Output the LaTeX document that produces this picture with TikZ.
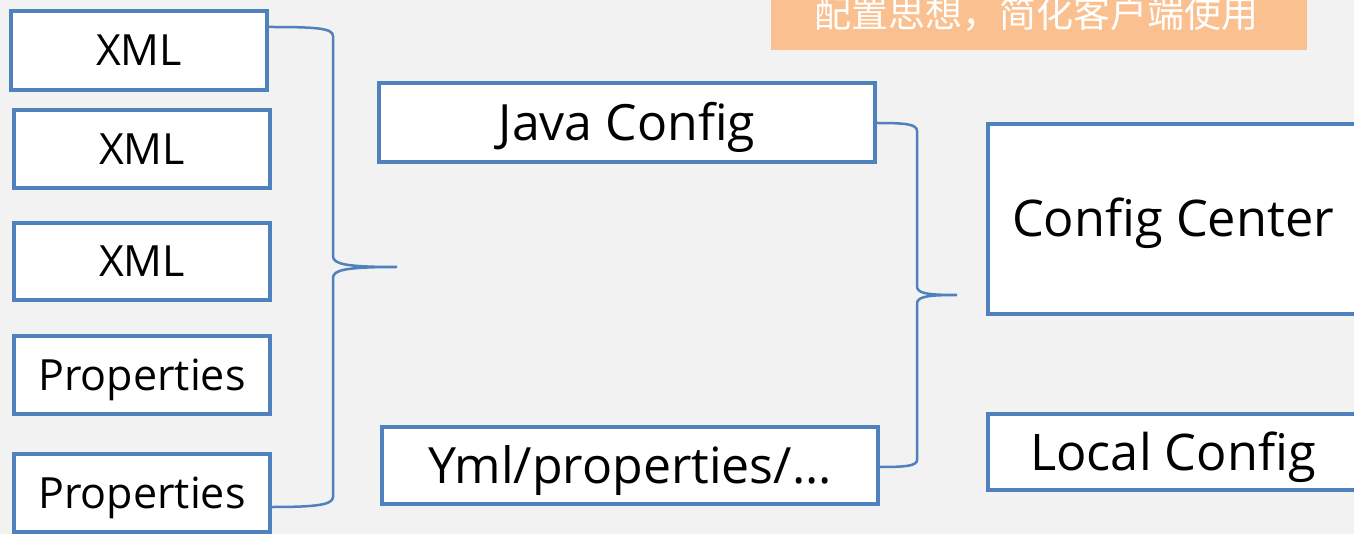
\documentclass[tikz,border=0pt]{standalone}
\usepackage{fontspec}
\setmainfont{Open Sans}
\newfontfamily\cjk{Noto Sans CJK SC}
\usetikzlibrary{calc}
\definecolor{bg}{HTML}{F2F2F2}
\definecolor{boxblue}{HTML}{4F81BD}
\definecolor{peach}{HTML}{FAC090}
\tikzset{
  box/.style={draw=boxblue, line width=4pt, fill=white, rectangle, inner sep=0pt,
    text depth=0pt, align=center},
  brace/.style={draw=boxblue, line width=2.5pt, line cap=round},
  small/.style={font=\fontsize{43}{50}\selectfont, text height=30.7pt},
  mid/.style={font=\fontsize{50}{56}\selectfont, text height=35.7pt},
  big/.style={font=\fontsize{50.5}{58}\selectfont, text height=36pt},
}
\begin{document}
\begin{tikzpicture}[x=1pt,y=-1pt]
\useasboundingbox (0,0) rectangle (1354,534);
\fill[bg] (0,0) rectangle (1354,534);
% banner
\node[fill=peach, minimum width=536pt, minimum height=60pt, inner sep=0pt] (banner) at (1039,20) {};
\node[font=\cjk\fontsize{37}{40}\selectfont, text=white, anchor=base] (bannertext) at (1036,28) {配置思想，简化客户端使用};
% left column
\node[box, small, minimum width=256pt, minimum height=79pt] (b1) at (139,50.5) {XML};
\node[box, small, minimum width=256pt, minimum height=78pt] (b2) at (142,149) {XML};
\node[box, small, minimum width=256pt, minimum height=77pt] (b3) at (142,261.5) {XML};
\node[box, small, minimum width=256pt, minimum height=78pt] (b4) at (142,375) {Properties};
\node[box, small, minimum width=256pt, minimum height=78pt] (b5) at (142,493) {Properties};
% middle column
\node[box, mid, minimum width=496pt, minimum height=79pt] (java) at (627,122.5) {Java Config};
\node[box, mid, minimum width=496pt, minimum height=77pt] (yml) at (630,465.5) {Yml/properties/...};
% right column
\node[box, big, minimum width=370pt, minimum height=190pt] (cc) at (1173,219) {Config Center};
\node[box, big, minimum width=370pt, minimum height=76pt] (lc) at (1173,452) {Local Config};
% brace tips
\coordinate (lt) at (397,267);
\coordinate (rt) at (957,295);
% left brace
\draw[brace] ($(b1.north east)+(0,18)$) .. controls (315,27) and (333,28) .. (333,36)
  -- (333,256) .. controls (333,264) and (345,267) .. (lt)
  .. controls (345,267) and (333,270) .. (333,278)
  -- (333,497) .. controls (333,505) and (315,507) .. ($(b5.north east)+(0,55)$);
% right brace
\draw[brace] ($(java.north east)+(0,42)$) .. controls (905,123) and (917,124) .. (917,131)
  -- (917,286) .. controls (917,293) and (925,295) .. (rt)
  .. controls (925,295) and (917,297) .. (917,304)
  -- (917,460) .. controls (917,466) and (905,467) .. ($(yml.north east)+(0,42)$);
\end{tikzpicture}
\end{document}
